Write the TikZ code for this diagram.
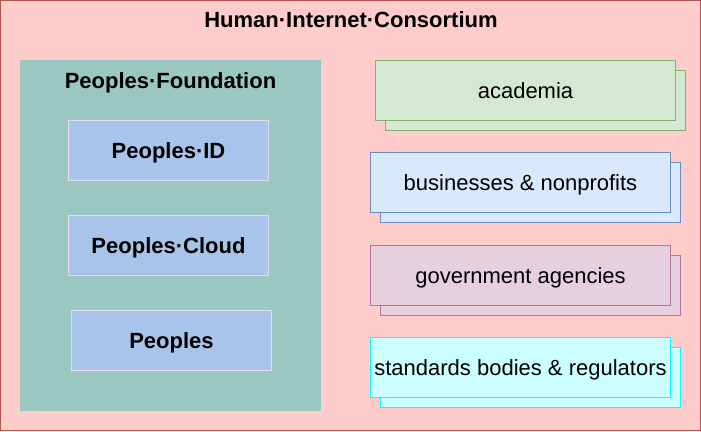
\documentclass[tikz,border=0pt]{standalone}
\usepackage{fontspec}
\setmainfont{Liberation Sans}
\definecolor{outerfill}{HTML}{FFCCCC}
\definecolor{outerline}{HTML}{B85450}
\definecolor{foundfill}{HTML}{9AC7BF}
\definecolor{pfill}{HTML}{A9C4EB}
\definecolor{pline}{HTML}{E2DDF0}
\definecolor{greenfill}{HTML}{D5E8D4}
\definecolor{greenline}{HTML}{82B366}
\definecolor{bluefill}{HTML}{DAE8FC}
\definecolor{blueline}{HTML}{6C8EBF}
\definecolor{purplefill}{HTML}{E6D0DE}
\definecolor{purpleline}{HTML}{B5739D}
\definecolor{cyanfill}{HTML}{CCFFFF}
\definecolor{cyanline}{HTML}{00FFFF}
\begin{document}
\begin{tikzpicture}[x=1pt,y=-1pt,
  every node/.style={inner sep=0pt, outer sep=0pt, text height=16pt, text depth=0pt, font=\fontsize{22}{24}\selectfont},
  lbl/.style={font=\fontsize{22}{24}\selectfont\bfseries},
  pbox/.style={draw=pline, fill=pfill, line width=1pt, minimum width=200pt, minimum height=60pt, font=\fontsize{22}{24}\selectfont\bfseries},
  orgbox/.style={line width=1pt, minimum width=300pt, minimum height=60pt}
]
\useasboundingbox (0,0) rectangle (701,431);
\node[draw=outerline, fill=outerfill, line width=1pt, minimum width=700pt, minimum height=430pt] (outer) at (350.5,215.5) {};
\node[lbl] (title) at (351,19.5) {Human·Internet·Consortium};
\node[fill=foundfill, minimum width=301pt, minimum height=351pt] (found) at (170.5,235.5) {};
\node[lbl] (foundlbl) at (170.5,80.5) {Peoples·Foundation};
\node[pbox] (pid) at (168.5,150.5) {Peoples·ID};
\node[pbox] (pcloud) at (168.5,245.5) {Peoples·Cloud};
\node[pbox] (peoples) at (171.5,340.5) {Peoples};
% academia
\node[orgbox, draw=greenline, fill=greenfill] (acaback) at (535.5,100.5) {};
\node[orgbox, draw=greenline, fill=greenfill] (aca) at (525.5,90.5) {academia};
% businesses
\node[orgbox, draw=blueline, fill=bluefill] (busback) at (530.5,192.5) {};
\node[orgbox, draw=blueline, fill=bluefill] (bus) at (520.5,182.5) {businesses \& nonprofits};
% government
\node[orgbox, draw=purpleline, fill=purplefill] (govback) at (530.5,285.5) {};
\node[orgbox, draw=purpleline, fill=purplefill] (gov) at (520.5,275.5) {government agencies};
% standards
\node[orgbox, draw=cyanline, fill=cyanfill] (stdback) at (530.5,377.5) {};
\node[orgbox, draw=cyanline, fill=cyanfill] (std) at (520.5,367.5) {standards bodies \& regulators};
\end{tikzpicture}
\end{document}
